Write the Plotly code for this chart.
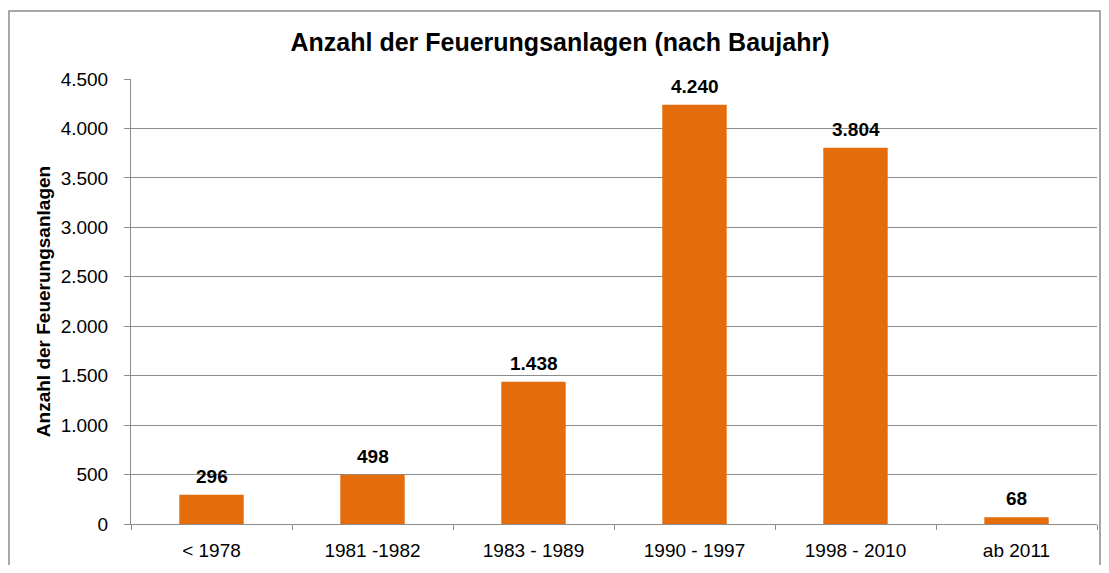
import plotly.graph_objects as go

categories = ["< 1978", "1981 -1982", "1983 - 1989", "1990 - 1997", "1998 - 2010", "ab 2011"]
values = [296, 498, 1438, 4240, 3804, 68]
y_ticks = [0, 500, 1000, 1500, 2000, 2500, 3000, 3500, 4000, 4500]

bar_color = "#E46C0A"
grid_color = "#8C8C8C"
font_family = "Liberation Sans, Arial, sans-serif"

# the page body has an 8px margin on every side; keep the figure inside the
# 1109x573 window so nothing overflows: it is drawn at page (8, 8)
W, H = 1093, 557

fig = go.Figure()
fig.add_trace(go.Bar(
    x=categories,
    y=values,
    marker=dict(color=bar_color, line=dict(width=0)),
    width=0.4,
    hoverinfo="x+y",
))

for c, v in zip(categories, values):
    fig.add_annotation(
        x=c, y=v, text=f"{v:,}".replace(",", "."),
        showarrow=False, yanchor="bottom", yshift=6,
        font=dict(family=font_family, size=19, color="#000000", weight="bold"),
    )

# plot area on page: x 131..1097, y 79..530
fig.update_layout(
    width=W, height=H,
    margin=dict(l=123, r=4, t=71, b=35),
    paper_bgcolor="white",
    plot_bgcolor="white",
    separators=",.",
    showlegend=False,
    title=dict(
        text="<b>Anzahl der Feuerungsanlagen (nach Baujahr)</b>",
        x=(560 - 8) / W, xref="container", xanchor="center",
        y=1 - (42 - 8) / H, yref="container", yanchor="middle",
        font=dict(family=font_family, size=25, color="#000000"),
    ),
    font=dict(family=font_family, color="#000000"),
)

fig.update_xaxes(
    type="category",
    tickson="boundaries",
    ticks="outside", ticklen=5, tickcolor=grid_color, tickwidth=1,
    showline=True, linecolor=grid_color, linewidth=1,
    showgrid=False,
    tickfont=dict(family=font_family, size=19, color="#000000"),
    ticklabelstandoff=9,
    fixedrange=True,
)
fig.update_yaxes(
    range=[0, 4500],
    tickvals=y_ticks,
    tickformat=",d",
    ticks="outside", ticklen=6, tickcolor=grid_color, tickwidth=1,
    showline=True, linecolor=grid_color, linewidth=1,
    showgrid=True, gridcolor=grid_color, gridwidth=1,
    zeroline=False,
    tickfont=dict(family=font_family, size=19, color="#000000"),
    ticklabelstandoff=12,
    title=dict(text="<b>Anzahl der Feuerungsanlagen</b>", standoff=5,
               font=dict(family=font_family, size=19, color="#000000")),
    automargin=False,
    fixedrange=True,
)

# outer chart border (left/top/right edges; bottom runs off the picture)
fig.add_shape(
    type="rect", xref="paper", yref="paper",
    x0=(9 - 131) / 966, x1=(1100 - 131) / 966,
    y0=(530 - 600) / 451, y1=(530 - 10) / 451,
    line=dict(color="#8C8C8C", width=1.5), fillcolor="rgba(0,0,0,0)",
    layer="below",
)

fig.write_html("out.html")
